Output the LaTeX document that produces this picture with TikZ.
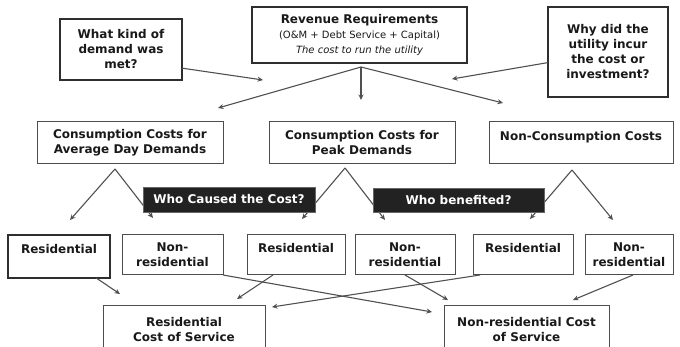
\documentclass[tikz,border=0pt]{standalone}
\usepackage{fontspec}
\setmainfont{DejaVu Sans}
\usetikzlibrary{arrows.meta}
\definecolor{boxline}{HTML}{2E2E2E}
\definecolor{darkbox}{HTML}{222222}
\definecolor{linkgray}{HTML}{505050}
\newcommand{\Subline}[1]{{\fontsize{10}{12}\selectfont\mdseries #1}}

\begin{document}
\begin{tikzpicture}[x=1pt,y=-1pt,
  qbox/.style={draw=boxline,line width=1.4pt,fill=white,align=center,inner sep=1pt,outer sep=0pt,
    text=black!90,font=\fontsize{12}{15}\selectfont\bfseries},
  cbox/.style={qbox,line width=1pt,draw=boxline!85},
  dbox/.style={fill=darkbox,draw=black!60,text=white,inner sep=0pt,
    font=\fontsize{12}{14}\selectfont\bfseries},
  link/.style={draw=linkgray,line width=1.1pt,-{Stealth[length=5.5pt,width=5pt]}}]
\useasboundingbox (0,0) rectangle (680,347);
% top row
\node (what) [qbox,minimum width=122,minimum height=61] at (121,49.5) {What kind of\\demand was\\met?};
\node (rev) [qbox,minimum width=215,minimum height=56] at (359.5,35) {Revenue Requirements\\\Subline{(O\&M + Debt Service + Capital)}\\\Subline{\itshape The cost to run the utility}};
\node (why) [qbox,minimum width=120,minimum height=90] at (608,52) {Why did the\\utility incur\\the cost or\\investment?};
% cost groups
\node (avg) [cbox,minimum width=186,minimum height=42] at (130,143) {Consumption Costs for\\Average Day Demands};
\node (peak) [cbox,minimum width=186,minimum height=42] at (362,143) {Consumption Costs for\\Peak Demands};
\node (noncons) [cbox,minimum width=184,minimum height=42] at (581,143) {Non-Consumption Costs\\~};
% customer classes
\node (res1) [qbox,line width=1.8pt,minimum width=102,minimum height=43] at (59,256.5) {Residential\\~};
\node (nonres1) [cbox,minimum width=101,minimum height=40] at (172.5,255) {Non-\\residential};
\node (res2) [cbox,minimum width=98,minimum height=40] at (296,255) {Residential\\~};
\node (nonres2) [cbox,minimum width=100,minimum height=40] at (405,255) {Non-\\residential};
\node (res3) [cbox,minimum width=100,minimum height=40] at (523,255) {Residential\\~};
\node (nonres3) [cbox,minimum width=88,minimum height=40] at (629,255) {Non-\\residential};
% cost of service
\node (rescos) [cbox,minimum width=162,minimum height=48] at (184,330) {Residential\\Cost of Service};
\node (nonrescos) [cbox,minimum width=165,minimum height=48] at (526.5,330) {Non-residential Cost\\of Service};
%
\coordinate (a1) at (263,80);
\coordinate (a2) at (452,79);
\coordinate (rv) at (361,67);
\coordinate (rl) at (218,108);
\coordinate (rd) at (361,100);
\coordinate (rr) at (503,103);
\coordinate (av) at (115,169);
\coordinate (avl) at (70,220);
\coordinate (avr) at (153,218);
\coordinate (pk) at (345,168);
\coordinate (pkl) at (302,219);
\coordinate (pkr) at (385,220);
\coordinate (nc) at (572,170);
\coordinate (ncl) at (530,219);
\coordinate (ncr) at (613,220);
\coordinate (t1) at (120,294);
\coordinate (t2) at (432,312);
\coordinate (t3) at (237,299);
\coordinate (t4) at (272,307);
\coordinate (t5) at (448,300);
\coordinate (t6) at (573,300);
%
\path (what.-17) edge[link] (a1);
\path (why.190) edge[link] (a2);
\path (rv) edge[link] (rl);
\path (rv) edge[link] (rd);
\path (rv) edge[link] (rr);
\path (av) edge[link] (avl);
\path (av) edge[link] (avr);
\path (pk) edge[link] (pkl);
\path (pk) edge[link] (pkr);
\path (nc) edge[link] (ncl);
\path (nc) edge[link] (ncr);
\path (res1.-30) edge[link] (t1);
\path (nonres1.south east) edge[link] (t2);
\path ([xshift=-23pt]res2.south) edge[link] (t3);
\path ([xshift=-43pt]res3.south) edge[link] (t4);
\path (nonres2.south) edge[link] (t5);
\path ([xshift=4pt]nonres3.south) edge[link] (t6);
% questions drawn over the legs
\node (caused) [dbox,minimum width=172,minimum height=25] at (229,199.5) {Who Caused the Cost?};
\node (benefit) [dbox,minimum width=171,minimum height=24] at (458.5,200) {Who benefited?};
\end{tikzpicture}
\end{document}
